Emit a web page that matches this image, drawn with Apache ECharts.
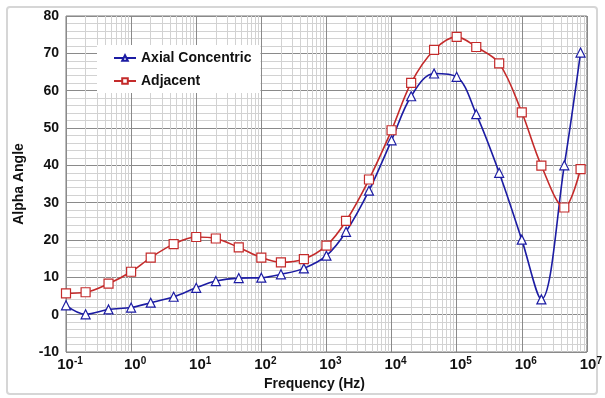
<!DOCTYPE html>
<html>
<head>
<meta charset="utf-8">
<script src="https://cdn.jsdelivr.net/npm/echarts@6/dist/echarts.min.js"></script>
<style>
  html, body { margin: 0; padding: 0; background: #fff; }
  #chart { width: 605px; height: 398px; }
</style>
</head>
<body>
<div id="chart"></div>
<script>
// frequencies (Hz) of the measured points
var freqs = [0.1, 0.2, 0.45, 1, 2, 4.5, 10, 20, 45, 100, 200, 450, 1000, 2000, 4500,
  1e4, 2e4, 4.5e4, 1e5, 2e5, 4.5e5, 1e6, 2e6, 4.5e6, 8e6]
var axialConcentric = [2.5, 0.1, 1.4, 1.9, 3.2, 4.8, 7.2, 9.0, 9.8, 9.9, 10.8, 12.4, 15.8, 22.2, 33.2,
  46.7, 58.5, 64.6, 63.7, 53.7, 38.0, 20.1, 4.1, 40.0, 70.2]
var adjacent = [5.7, 6.0, 8.3, 11.5, 15.3, 18.9, 20.8, 20.4, 18.0, 15.3, 14.0, 14.9, 18.5, 25.1, 36.2,
  49.4, 62.1, 70.9, 74.4, 71.7, 67.3, 54.2, 39.9, 28.7, 39.0]
var yTicks = [-10, 80, 10]
var minorMultipliers = [2, 3, 4, 5, 6, 7, 8, 9]

var blue = '#1c1ca3'
var red = '#c42b2b'

function pairs (ys) {
  return freqs.map(function (f, i) { return [f, ys[i]] })
}

// minor vertical grid lines inside every decade
var minorX = []
for (var d = -1; d < 7; d++) {
  minorMultipliers.forEach(function (m) {
    minorX.push({ xAxis: m * Math.pow(10, d) })
  })
}

var chart = echarts.init(document.getElementById('chart'))
chart.setOption({
  animation: false,
  textStyle: { fontFamily: 'Liberation Sans, Arial, sans-serif' },
  graphic: [{
    type: 'rect',
    silent: true,
    z: -10,
    shape: { x: 7, y: 7, width: 590, height: 387, r: 3 },
    style: { fill: 'none', stroke: '#d6d6d6', lineWidth: 2 }
  }],
  grid: {
    left: 66,
    right: 18,
    top: 16,
    bottom: 46,
    show: true,
    borderColor: '#7a7a7a',
    borderWidth: 1,
    backgroundColor: '#fff'
  },
  legend: {
    orient: 'vertical',
    left: 97,
    top: 45,
    z: 10,
    padding: [6, 9, 5, 16],
    backgroundColor: '#fff',
    itemWidth: 22,
    itemHeight: 7,
    itemGap: 9,
    textStyle: { fontSize: 14, fontWeight: 'bold', color: '#111', lineHeight: 14 },
    data: ['Axial Concentric', 'Adjacent']
  },
  xAxis: {
    type: 'log',
    logBase: 10,
    min: 0.1,
    max: 1e7,
    interval: 1,
    name: 'Frequency (Hz)',
    nameLocation: 'middle',
    nameGap: 23,
    nameTextStyle: { fontSize: 14, fontWeight: 'bold', color: '#111', padding: [0, 24, 0, 0] },
    axisLine: { show: false },
    axisTick: { show: false },
    axisLabel: {
      margin: 4,
      padding: [0, 0, 0, 8],
      formatter: function (v) {
        return '{b|10}{s|' + Math.round(Math.log10(v)) + '}'
      },
      rich: {
        b: { fontSize: 15, fontWeight: 'bold', color: '#111', lineHeight: 18 },
        s: { fontSize: 10, fontWeight: 'bold', color: '#111', verticalAlign: 'top', lineHeight: 10 }
      }
    },
    splitLine: { show: true, lineStyle: { color: '#8a8a8a', width: 1 } }
  },
  yAxis: {
    type: 'value',
    min: yTicks[0],
    max: yTicks[1],
    interval: yTicks[2],
    name: 'Alpha Angle',
    nameLocation: 'middle',
    nameGap: 40,
    nameTextStyle: { fontSize: 14, fontWeight: 'bold', color: '#111' },
    axisLine: { show: false },
    axisTick: { show: false },
    axisLabel: { fontSize: 14, fontWeight: 'bold', color: '#111', margin: 7 },
    splitLine: { show: true, lineStyle: { color: '#8a8a8a', width: 1 } },
    minorTick: { show: false, splitNumber: 5 },
    minorSplitLine: { show: true, lineStyle: { color: '#d2d2d2', width: 1 } }
  },
  series: [{
    name: 'minor-grid',
    type: 'line',
    z: 1,
    data: [],
    silent: true,
    markLine: {
      z: 0,
      silent: true,
      symbol: 'none',
      label: { show: false },
      lineStyle: { color: '#d2d2d2', width: 1, type: 'solid' },
      data: minorX
    }
  }, {
    name: 'Axial Concentric',
    type: 'line',
    z: 3,
    smooth: 0.35,
    symbol: 'triangle',
    symbolSize: 9,
    lineStyle: { color: blue, width: 1.6 },
    itemStyle: { color: '#fff', borderColor: blue, borderWidth: 1.2 },
    data: pairs(axialConcentric)
  }, {
    name: 'Adjacent',
    type: 'line',
    z: 4,
    smooth: 0.35,
    symbol: 'rect',
    symbolSize: 9,
    lineStyle: { color: red, width: 1.6 },
    itemStyle: { color: '#fff', borderColor: red, borderWidth: 1.2 },
    data: pairs(adjacent)
  }]
})
</script>
</body>
</html>
